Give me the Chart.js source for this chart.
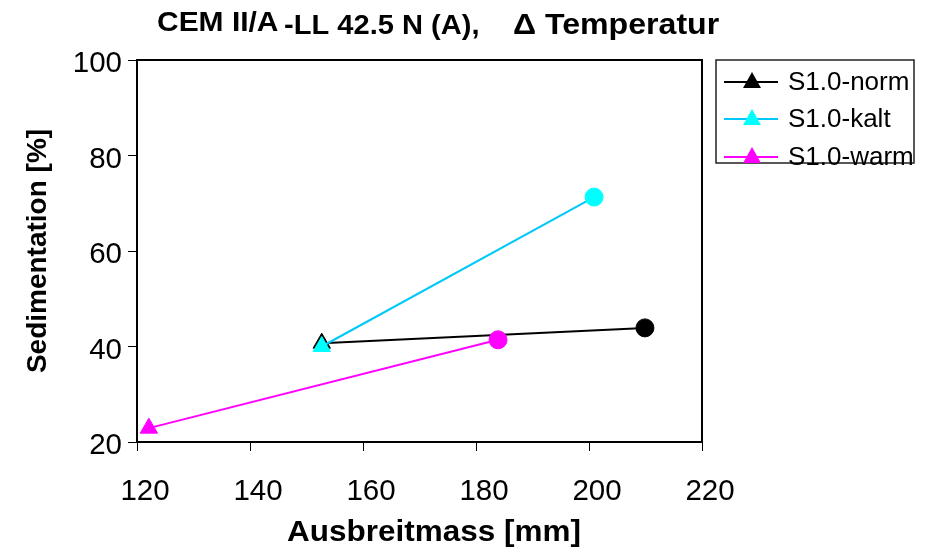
<!DOCTYPE html>
<html>
<head>
<meta charset="utf-8">
<script src="https://cdn.jsdelivr.net/npm/chart.js@4/dist/chart.umd.min.js"></script>
<style>
  body { margin: 0; background: #fff; }
  #wrap { width: 927px; height: 555px; }
</style>
</head>
<body>
<div id="wrap"><canvas id="myChart"></canvas></div>
<script>
const FONT = "Arial, 'Liberation Sans', sans-serif";

// Ausbreitmass [mm] / Sedimentation [%] per mix
const seriesNames = ['S1.0-norm', 'S1.0-kalt', 'S1.0-warm'];
const normX = [152.7, 209.9];
const normY = [40.7, 43.9];
const kaltX = [152.7, 200.9];
const kaltY = [40.0, 71.3];
const warmX = [122.1, 183.9];
const warmY = [22.9, 41.4];
const xTicks = [120, 140, 160, 180, 200, 220];
const yTicks = [20, 40, 60, 80, 100];

const lineColors = ['#000000', '#00c8f8', '#ff00ff'];
const markColors = ['#000000', '#00ffff', '#ff00ff'];

function pts(xs, ys) {
  return xs.map((x, i) => ({ x: x, y: ys[i] }));
}

function makeSet(i, xs, ys, order) {
  return {
    label: seriesNames[i],
    data: pts(xs, ys),
    borderColor: lineColors[i],
    borderWidth: 2,
    pointStyle: ['triangle', 'circle'],
    pointRadius: [10, 9],
    pointBackgroundColor: markColors[i],
    pointBorderColor: markColors[i],
    pointBorderWidth: 1,
    showLine: true,
    order: order
  };
}

// text drawn slightly widened, like the old Excel export
function wideText(c, txt, x, y, sx) {
  c.save();
  c.translate(x, y);
  c.scale(sx, 1);
  c.fillText(txt, 0, 0);
  c.restore();
}

// title, axis titles, frame and legend box
const decor = {
  id: 'decor',
  afterDraw(chart) {
    const c = chart.ctx;
    const a = chart.chartArea;
    c.save();
    c.strokeStyle = '#000';
    c.lineWidth = 2;
    c.beginPath();
    c.moveTo(a.left, a.top);
    c.lineTo(a.right, a.top);
    c.lineTo(a.right, a.bottom);
    c.stroke();

    c.fillStyle = '#000';
    c.textBaseline = 'alphabetic';
    c.textAlign = 'left';
    c.font = 'bold 28px ' + FONT;
    wideText(c, 'CEM II/A', 157, 31, 1.07);
    c.font = 'bold 27px ' + FONT;
    wideText(c, '-LL 42.5 N (A),', 284, 34, 1.077);
    c.font = 'bold 30px ' + FONT;
    wideText(c, '\u0394 Temperatur', 513, 34, 1.07);

    c.textAlign = 'center';
    c.textBaseline = 'middle';
    c.font = 'bold 29px ' + FONT;
    wideText(c, 'Ausbreitmass [mm]', 434, 533, 1.085);
    c.save();
    c.translate(38, 251);
    c.rotate(-Math.PI / 2);
    c.font = 'bold 28px ' + FONT;
    c.fillText('Sedimentation [%]', 0, 0);
    c.restore();

    // legend
    c.lineWidth = 1.5;
    c.strokeStyle = '#222';
    c.strokeRect(716, 60, 198, 103);
    const rows = [82, 119, 157];
    c.textAlign = 'left';
    c.font = '26px ' + FONT;
    rows.forEach((y, i) => {
      c.strokeStyle = lineColors[i];
      c.lineWidth = 2;
      c.beginPath();
      c.moveTo(724, y);
      c.lineTo(778, y);
      c.stroke();
      c.fillStyle = markColors[i];
      c.beginPath();
      c.moveTo(752, y - 10);
      c.lineTo(761, y + 6);
      c.lineTo(743, y + 6);
      c.closePath();
      c.fill();
      c.fillStyle = '#000';
      c.fillText(seriesNames[i], 788, y + 1);
    });
    c.restore();
  }
};

const ctx = document.getElementById('myChart');

new Chart(ctx, {
  type: 'scatter',
  data: {
    datasets: [
      makeSet(0, normX, normY, 3),
      makeSet(1, kaltX, kaltY, 2),
      makeSet(2, warmX, warmY, 1)
    ]
  },
  options: {
    responsive: true,
    maintainAspectRatio: false,
    animation: false,
    layout: { padding: { top: 60, right: 225, left: 0, bottom: 0 } },
    plugins: {
      legend: { display: false },
      tooltip: { enabled: false }
    },
    scales: {
      x: {
        type: 'linear',
        min: 120,
        max: 220,
        afterFit(scale) { scale.height = 113; },
        afterBuildTicks(scale) { scale.ticks = xTicks.map(v => ({ value: v })); },
        border: { display: true, color: '#000', width: 2 },
        grid: { drawOnChartArea: false, drawTicks: true, tickLength: 9, color: '#000', lineWidth: 1 },
        ticks: { color: '#000', padding: 23, labelOffset: 8, font: { family: FONT, size: 29.5 } }
      },
      y: {
        type: 'linear',
        min: 20,
        max: 100,
        afterFit(scale) { scale.width = 137; },
        afterBuildTicks(scale) { scale.ticks = yTicks.map(v => ({ value: v })); },
        border: { display: true, color: '#000', width: 2 },
        grid: { drawOnChartArea: false, drawTicks: true, tickLength: 9, color: '#000', lineWidth: 1 },
        ticks: { color: '#000', padding: 6, labelOffset: 4, font: { family: FONT, size: 29.5 } }
      }
    }
  },
  plugins: [decor]
});
</script>
</body>
</html>
